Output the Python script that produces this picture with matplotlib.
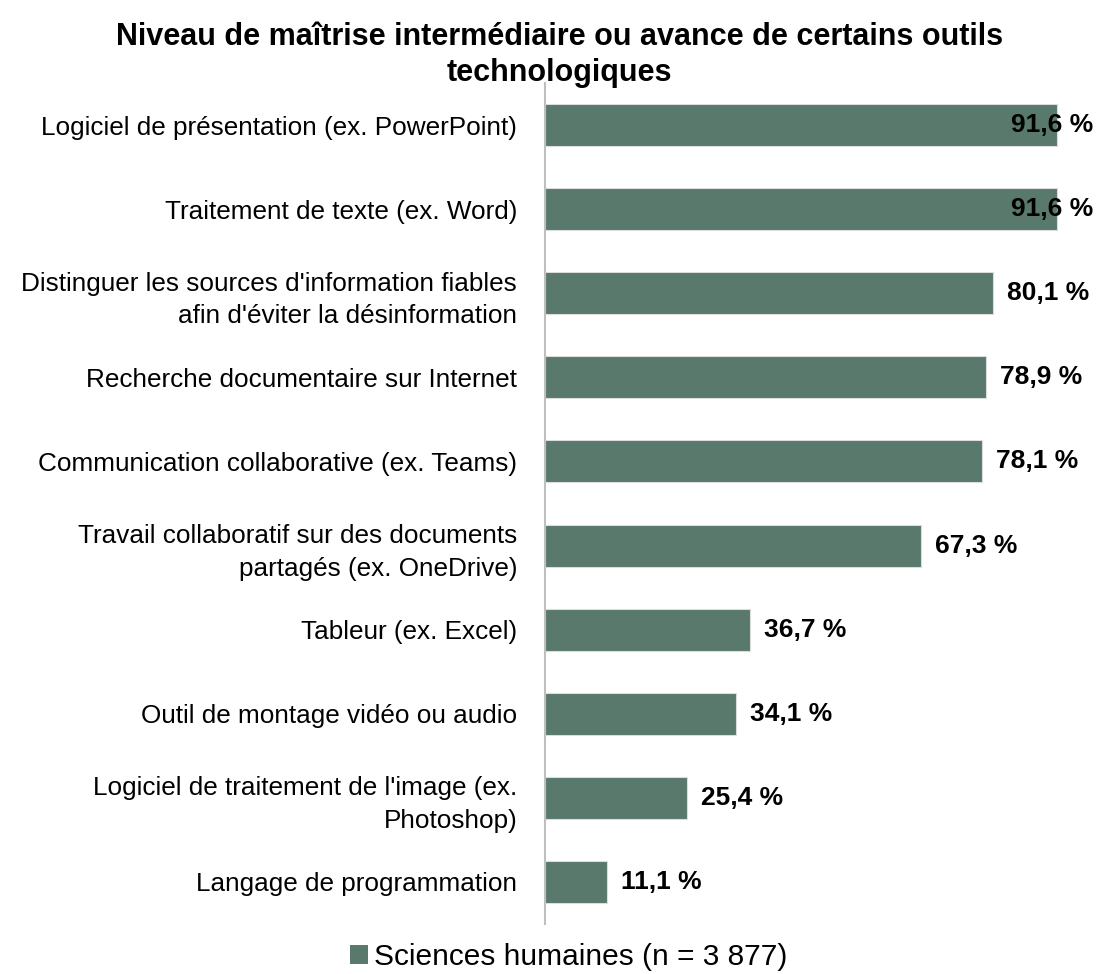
import matplotlib
matplotlib.use('Agg')
from matplotlib import pyplot as plt
from matplotlib.patches import Patch

plt.rcParams['font.family'] = ['Liberation Sans', 'DejaVu Sans']

# données
categories = [
    "Logiciel de présentation (ex. PowerPoint)",
    "Traitement de texte (ex. Word)",
    "Distinguer les sources d'information fiables\nafin d'éviter la désinformation",
    "Recherche documentaire sur Internet",
    "Communication collaborative (ex. Teams)",
    "Travail collaboratif sur des documents\npartagés (ex. OneDrive)",
    "Tableur (ex. Excel)",
    "Outil de montage vidéo ou audio",
    "Logiciel de traitement de l'image (ex.\nPhotoshop)",
    "Langage de programmation",
]
values = [91.6, 91.6, 80.1, 78.9, 78.1, 67.3, 36.7, 34.1, 25.4, 11.1]
series_name = "Sciences humaines (n = 3 877)"
title = "Niveau de maîtrise intermédiaire ou avance de certains outils\ntechnologiques"

color = '#58796b'

fig = plt.figure(figsize=(11.19, 9.74), dpi=100)
ax = fig.add_axes([0.487, 0.0513, 0.4997, 0.8635])

y = list(range(len(categories)))
ax.barh(y, values, height=0.5, color=color, edgecolor='#dcdcdc', linewidth=0.8)
ax.set_xlim(0, 100)
ax.set_ylim(len(categories) - 0.5, -0.5)

ax.set_yticks(y)
ax.set_yticklabels(categories, fontsize=18.8, linespacing=1.45)
ax.tick_params(axis='y', length=0, pad=20)
ax.set_xticks([])
for s in ['top', 'right', 'bottom']:
    ax.spines[s].set_visible(False)
ax.spines['left'].set_color('#bfbfbf')
ax.spines['left'].set_linewidth(1.5)

# étiquettes de valeurs
for yi, v in zip(y, values):
    txt = f"{v:.1f} %".replace('.', ',')
    if v > 88:
        ax.text(98, yi, txt, ha='right', va='center', fontsize=19, fontweight='bold')
    else:
        ax.annotate(txt, (v, yi), xytext=(10, 0), textcoords='offset points',
                    ha='left', va='center', fontsize=19, fontweight='bold')

fig.suptitle(title, x=0.5, y=0.977, fontsize=22, fontweight='bold', linespacing=1.25)

handle = Patch(facecolor=color, edgecolor='none')
fig.legend([handle], [series_name], loc='center', bbox_to_anchor=(0.508, 0.017),
           frameon=False, fontsize=21.5, handlelength=0.6, handleheight=0.6,
           handletextpad=0.2, borderpad=0)

fig.savefig('out.png', dpi=100)
